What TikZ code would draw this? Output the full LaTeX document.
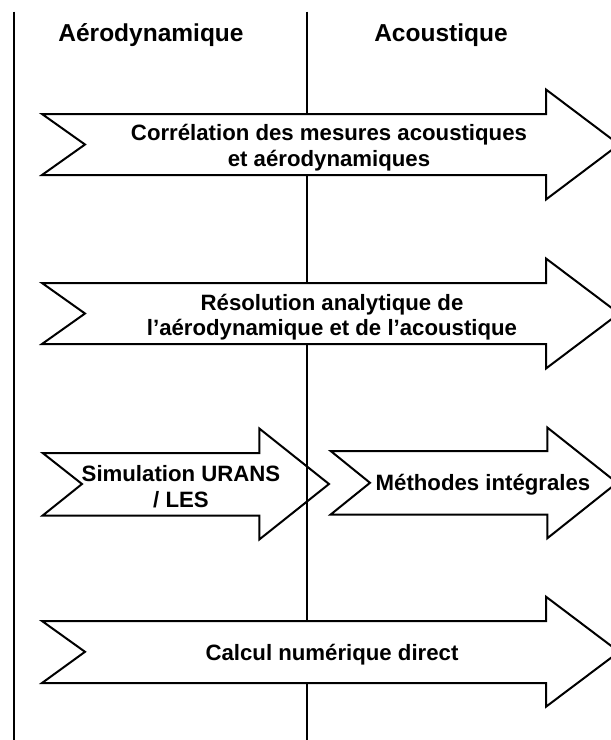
\documentclass[tikz,border=0pt]{standalone}
\usepackage{fontspec}
\setmainfont{Liberation Sans}
\begin{document}
\begin{tikzpicture}[x=1pt,y=-1pt,
  shp/.style={draw=black,fill=white,line width=2pt,line join=miter},
  vline/.style={draw=black,line width=2pt},
  lbl/.style={font=\fontsize{22.2}{25.5}\selectfont\bfseries,align=center,inner sep=0pt},
  hdr/.style={font=\fontsize{24.5}{28}\selectfont\bfseries,inner sep=0pt,anchor=base}]
\useasboundingbox (0,0) rectangle (611,740);
\clip (0,0) rectangle (611,740);
% arrow 3a (below the middle line)
\draw[shp] (42.7,453) -- (259.3,453) -- (259.3,428.5) -- (329,484) -- (259.3,539.5) -- (259.3,515.5) -- (42.7,515.5) -- (82,484) -- cycle;
\node[lbl] (sim) at (181,486.5) {Simulation URANS\\/ LES};
% vertical lines
\coordinate (lt) at (14,11.7);
\coordinate (lb) at (14,740);
\coordinate (mt) at (306.7,11.7);
\coordinate (mb) at (306.7,740);
\draw[vline] (lt) -- (lb);
\draw[vline] (mt) -- (mb);
% headers
\node[hdr] (haero) at (151,41) {Aérodynamique};
\node[hdr] (hacou) at (441,41) {Acoustique};
% arrow 1
\draw[shp] (42,114) -- (546,114) -- (546,89.5) -- (619,144.5) -- (546,199.5) -- (546,175) -- (42,175) -- (85,144.5) -- cycle;
\node[lbl] (corr) at (329,147.5) {Corrélation des mesures acoustiques\\et aérodynamiques};
% arrow 2
\draw[shp] (42,283) -- (546,283) -- (546,258.5) -- (619,313.5) -- (546,368.5) -- (546,344) -- (42,344) -- (85,313.5) -- cycle;
\node[lbl] (reso) at (332,317) {Résolution analytique de\\l’aérodynamique et de l’acoustique};
% arrow 3b
\draw[shp] (330.7,451) -- (547.3,451) -- (547.3,427.5) -- (617,482.8) -- (547.3,538.3) -- (547.3,514.5) -- (330.7,514.5) -- (370,482.8) -- cycle;
\node[lbl] (meth) at (483,484.5) {Méthodes intégrales};
% arrow 4
\draw[shp] (42,621) -- (546,621) -- (546,596.7) -- (619,651.8) -- (546,706.7) -- (546,683) -- (42,683) -- (85,651.8) -- cycle;
\node[lbl] (calc) at (332,655) {Calcul numérique direct};
\end{tikzpicture}
\end{document}
